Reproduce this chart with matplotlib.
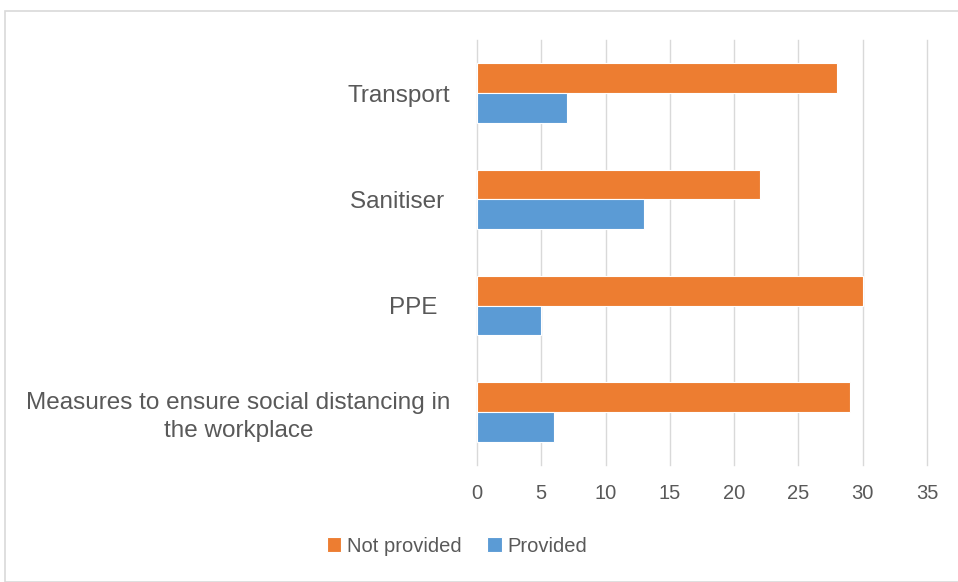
import matplotlib.pyplot as plt
import numpy as np
from matplotlib.patches import Rectangle

# data (bottom to top)
categories = ["Measures to ensure social distancing in\nthe workplace", "PPE  ", "Sanitiser ", "Transport"]
not_provided = [29, 30, 22, 28]
provided = [6, 5, 13, 7]
xticks = [0, 5, 10, 15, 20, 25, 30, 35]

orange = "#ED7D31"
blue = "#5B9BD5"
text_col = "#595959"

plt.rcParams['font.family'] = ['Liberation Sans', 'DejaVu Sans']

fig = plt.figure(figsize=(9.58, 5.82), dpi=100)
ax = fig.add_axes([477 / 958, 1 - 465 / 582, 450 / 958, 425 / 582])

y = np.arange(len(categories))
h = 0.28
ax.barh(y + h / 2, not_provided, height=h, color=orange, edgecolor="white", linewidth=0.8,
        label="Not provided", zorder=3)
ax.barh(y - h / 2, provided, height=h, color=blue, edgecolor="white", linewidth=0.8,
        label="Provided", zorder=3)

ax.set_xlim(0, 35)
ax.set_ylim(-0.5, 3.5)
ax.set_xticks(xticks)
ax.set_yticks(y)
ax.set_yticklabels(categories, ha="right", multialignment="center", linespacing=1.35)
ax.tick_params(axis="y", length=0, pad=19, labelsize=17.5, labelcolor=text_col)
ax.tick_params(axis="x", length=0, pad=14, labelsize=14.5, labelcolor=text_col)
ax.grid(axis="x", color="#D9D9D9", linewidth=1, zorder=0)
for gl in ax.get_xgridlines():
    gl.set_clip_on(False)
for s in ax.spines.values():
    s.set_visible(False)

fig.legend(loc="center", bbox_to_anchor=(0.477, 1 - 546 / 582), ncol=2, frameon=False,
           fontsize=14.5, labelcolor=text_col, handlelength=0.7, handleheight=0.7,
           handletextpad=0.3, columnspacing=1.3)

# chart border
fig.patches.append(Rectangle((5 / 958, 0.0), 1.5, 1 - 11 / 582, transform=fig.transFigure,
                             fill=False, edgecolor="#D9D9D9", linewidth=1.2))

fig.savefig("out.png", dpi=100)
